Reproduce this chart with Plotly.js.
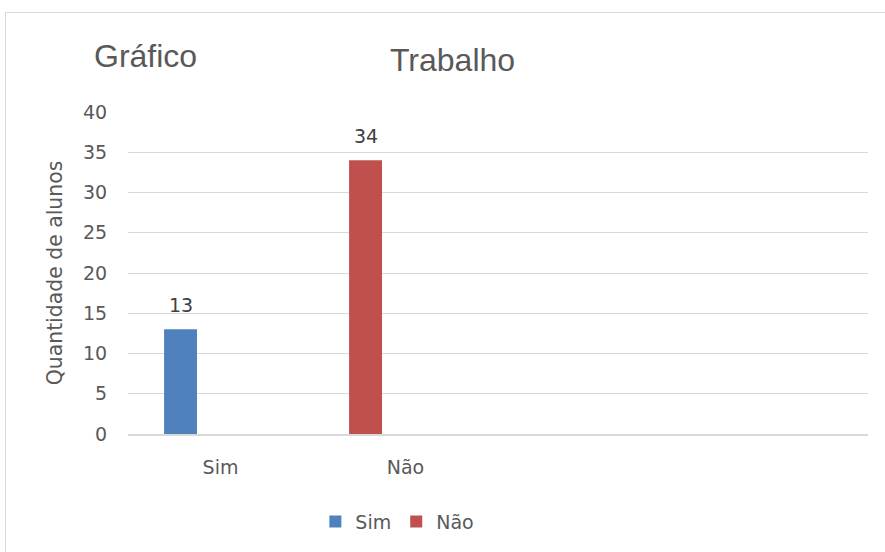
<!DOCTYPE html>
<html>
<head>
<meta charset="utf-8">
<script src="https://cdn.plot.ly/plotly-3.0.1.min.js"></script>
<style>
  body { margin: 0; overflow: hidden; background: #fff; }
  #frame { position: absolute; left: 5px; top: 12px; width: 900px; height: 560px; border: 1px solid #d9d9d9; }
  #chart { position: absolute; left: 0; top: 0; width: 885px; height: 552px; }
</style>
</head>
<body>
<div id="frame"></div>
<div id="chart"></div>
<script>
const categories = ['Sim', 'Não'];
const simValues = [13, null];
const naoValues = [null, 34];
const yTicks = [0, 5, 10, 15, 20, 25, 30, 35, 40];

const labelFont = { family: '"DejaVu Sans", sans-serif', size: 19, color: '#595959' };
const titleFont = { family: '"Liberation Sans", Arial, sans-serif', size: 32, color: '#595959' };

const makeTrace = (name, values, color) => ({
  type: 'bar',
  name: name,
  x: categories,
  y: values,
  marker: { color: color },
  width: 0.178,
  offset: -0.305,
  hoverinfo: 'x+y+name',
});

const data = [
  makeTrace('Sim', simValues, '#4f81bd'),
  makeTrace('Não', naoValues, '#c0504d'),
];

// data labels above bars, built from the series arrays
const valueLabels = [];
[simValues, naoValues].forEach(series => {
  series.forEach((v, i) => {
    if (v === null) return;
    valueLabels.push({
      x: categories[i], y: v, xref: 'x', yref: 'y',
      text: String(v), showarrow: false,
      xanchor: 'center', yanchor: 'bottom',
      xshift: -40, yshift: 11,
      font: { family: labelFont.family, size: 19, color: '#404040' },
    });
  });
});

const layout = {
  width: 885,
  height: 552,
  paper_bgcolor: 'rgba(0,0,0,0)',
  plot_bgcolor: 'rgba(0,0,0,0)',
  margin: { l: 128, r: 17, t: 112, b: 115 },
  barmode: 'group',
  font: labelFont,
  xaxis: {
    type: 'category',
    categoryorder: 'array',
    categoryarray: categories,
    range: [-0.5, 3.5],
    showline: true,
    linecolor: '#d9d9d9',
    linewidth: 2,
    showgrid: false,
    ticks: 'outside',
    ticklen: 15,
    tickcolor: 'rgba(0,0,0,0)',
    tickfont: labelFont,
    fixedrange: true,
  },
  yaxis: {
    range: [0, 40],
    tickvals: yTicks,
    showgrid: true,
    gridcolor: '#d9d9d9',
    gridwidth: 1,
    zeroline: false,
    showline: false,
    ticks: 'outside',
    ticklen: 16,
    tickcolor: 'rgba(0,0,0,0)',
    tickfont: labelFont,
    title: { text: 'Quantidade de alunos', font: { family: labelFont.family, size: 20.4, color: '#595959' }, standoff: 14 },
    fixedrange: true,
  },
  showlegend: true,
  legend: {
    orientation: 'h',
    x: 0.364,
    xanchor: 'center',
    y: -0.272,
    yanchor: 'middle',
    font: labelFont,
    itemwidth: 30,
    traceorder: 'normal',
  },
  annotations: [
    {
      text: 'Gráfico', xref: 'paper', yref: 'paper', x: 0.024, y: 1.175,
      xanchor: 'center', yanchor: 'middle', showarrow: false, font: titleFont,
    },
    {
      text: 'Trabalho', xref: 'paper', yref: 'paper', x: 0.439, y: 1.163,
      xanchor: 'center', yanchor: 'middle', showarrow: false, font: titleFont,
    },
  ].concat(valueLabels),
};

Plotly.newPlot('chart', data, layout, { displayModeBar: false, staticPlot: true });
</script>
</body>
</html>
